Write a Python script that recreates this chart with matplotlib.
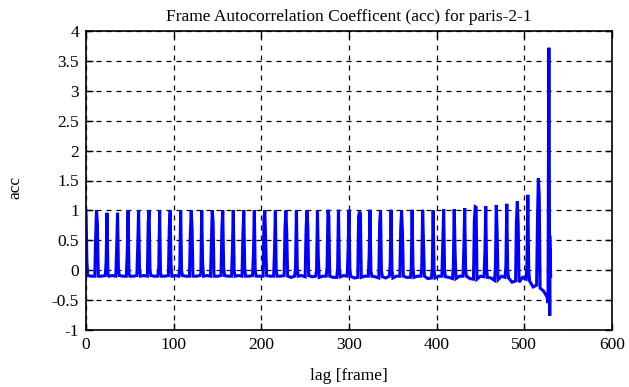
import matplotlib
matplotlib.use("Agg")
import matplotlib.pyplot as plt

# ---- data ----
# spike positions (lag in frames)
spike_lag = [0, 12, 24, 36, 48, 60, 72, 84, 96, 108, 120, 132, 144, 156, 168,
             180, 192, 204, 216, 228, 240, 252, 264, 276, 288, 300, 312, 324,
             336, 348, 360, 372, 384, 396, 408, 420, 432, 444, 456, 468, 480,
             492, 504, 516, 528]
# value one frame before the spike
spike_left = [None, 0.54, 0.15, 0.37, 0.27, 0.38, 0.80, 0.05, 0.70, 0.05,
              0.60, -0.05, 0.47, 0.70, 0.33, 0.60, 0.27, 0.85, 0.30, 0.70,
              0.05, 0.65, 0.00, 0.05, 0.02, 0.35, 0.90, 0.25, 0.80, 0.10,
              0.70, 0.00, 0.05, 0.02, 0.44, 0.05, 0.36, 0.83, 0.28, 0.05,
              0.08, 0.81, 0.10, 0.83, -0.55]
# spike peak value
spike_peak = [1.00, 1.00, 0.96, 0.96, 1.00, 1.00, 1.00, 1.00, 1.00, 1.00,
              1.00, 1.00, 1.00, 1.00, 1.00, 1.00, 1.00, 1.00, 1.00, 1.00,
              1.00, 1.00, 1.00, 1.01, 1.01, 1.01, 0.98, 1.01, 1.00, 1.01,
              1.00, 1.01, 1.01, 1.00, 1.02, 1.02, 1.04, 1.06, 1.07, 1.09,
              1.11, 1.15, 1.26, 1.54, 3.72]
# value one frame after the spike
spike_right = [0.15, 0.78, -0.05, 0.00, -0.05, 0.05, 0.00, -0.05, 0.10, 0.00,
               0.70, 0.13, 0.80, 0.05, 0.00, 0.05, 0.00, 0.47, 0.00, 0.62,
               0.05, 0.75, 0.20, 0.90, 0.05, 0.00, 0.95, 0.00, 0.00, 0.00,
               0.62, 0.05, 0.45, 0.02, 0.00, 0.31, 0.00, 1.05, 0.00, 0.61,
               0.00, 0.76, 0.00, 1.25, -0.76]
# baseline values between spikes (at +2, +6 and +10 frames after each spike)
base_a = [-0.09, -0.10, -0.10, -0.09, -0.10, -0.10, -0.09, -0.10, -0.10,
          -0.09, -0.10, -0.10, -0.10, -0.09, -0.10, -0.10, -0.10, -0.09,
          -0.10, -0.10, -0.10, -0.09, -0.12, -0.10, -0.11, -0.10, -0.12,
          -0.10, -0.11, -0.13, -0.10, -0.12, -0.10, -0.13, -0.11, -0.14,
          -0.10, -0.15, -0.12, -0.16, -0.13, -0.20, -0.18, -0.30]
base_m = [-0.10, -0.10, -0.09, -0.10, -0.10, -0.09, -0.10, -0.10, -0.09,
          -0.10, -0.10, -0.09, -0.10, -0.10, -0.09, -0.10, -0.10, -0.10,
          -0.10, -0.12, -0.09, -0.11, -0.10, -0.12, -0.09, -0.13, -0.10,
          -0.11, -0.13, -0.10, -0.12, -0.10, -0.14, -0.10, -0.12, -0.10,
          -0.14, -0.10, -0.13, -0.10, -0.20, -0.12, -0.28, -0.35]
base_b = [-0.10, -0.09, -0.10, -0.10, -0.09, -0.10, -0.10, -0.09, -0.10,
          -0.10, -0.09, -0.10, -0.09, -0.10, -0.10, -0.09, -0.10, -0.10,
          -0.09, -0.10, -0.11, -0.10, -0.10, -0.12, -0.10, -0.12, -0.10,
          -0.13, -0.10, -0.10, -0.12, -0.10, -0.13, -0.10, -0.14, -0.10,
          -0.15, -0.11, -0.17, -0.12, -0.18, -0.15, -0.25, -0.45]
tail_lag = [529, 530]
tail_acc = [0.58, -0.10]

x_ticks = [0, 100, 200, 300, 400, 500, 600]
y_ticks = [-1, -0.5, 0, 0.5, 1, 1.5, 2, 2.5, 3, 3.5, 4]
y_ticklabels = ["-1", "-0.5", "0", "0.5", "1", "1.5", "2", "2.5", "3", "3.5", "4"]

# ---- assemble the polyline from the read values ----
lags, acc = [], []
for i, lag in enumerate(spike_lag):
    if spike_left[i] is not None:
        lags.append(lag - 1); acc.append(spike_left[i])
    lags.append(lag); acc.append(spike_peak[i])
    lags.append(lag + 1); acc.append(spike_right[i])
    if i < len(base_a):
        lags.append(lag + 2); acc.append(base_a[i])
        lags.append(lag + 6); acc.append(base_m[i])
        lags.append(lag + 10); acc.append(base_b[i])
lags += tail_lag
acc += tail_acc

plt.rcParams['font.family'] = ['Liberation Serif', 'DejaVu Serif']
fig = plt.figure(figsize=(6.29, 3.87), dpi=100)
ax = fig.add_axes([86/629, 1-330/387, (612-86)/629, (330-31)/387])
ax.plot(lags, acc, color='#0000ff', linewidth=2.2, solid_joinstyle='miter')
ax.set_xlim(0, 600)
ax.set_ylim(-1, 4)
ax.set_xticks(x_ticks)
ax.set_yticks(y_ticks)
ax.set_yticklabels(y_ticklabels)
ax.grid(True, color='black', linestyle=(0, (4, 4)), linewidth=0.9)
ax.tick_params(direction='in', top=True, right=True, length=5, width=1,
               labelsize=12.5, pad=5)
for s in ax.spines.values():
    s.set_linewidth(1.2)
ax.set_title("Frame Autocorrelation Coefficent (acc) for paris-2-1", fontsize=12.5, pad=7)
ax.set_xlabel("lag [frame]", fontsize=12.5)
ax.xaxis.set_label_coords(0.5, -0.128)
ax.set_ylabel("acc", fontsize=12.5)
ax.yaxis.set_label_coords(-0.12, 0.475)
fig.savefig("out.png", dpi=100)
